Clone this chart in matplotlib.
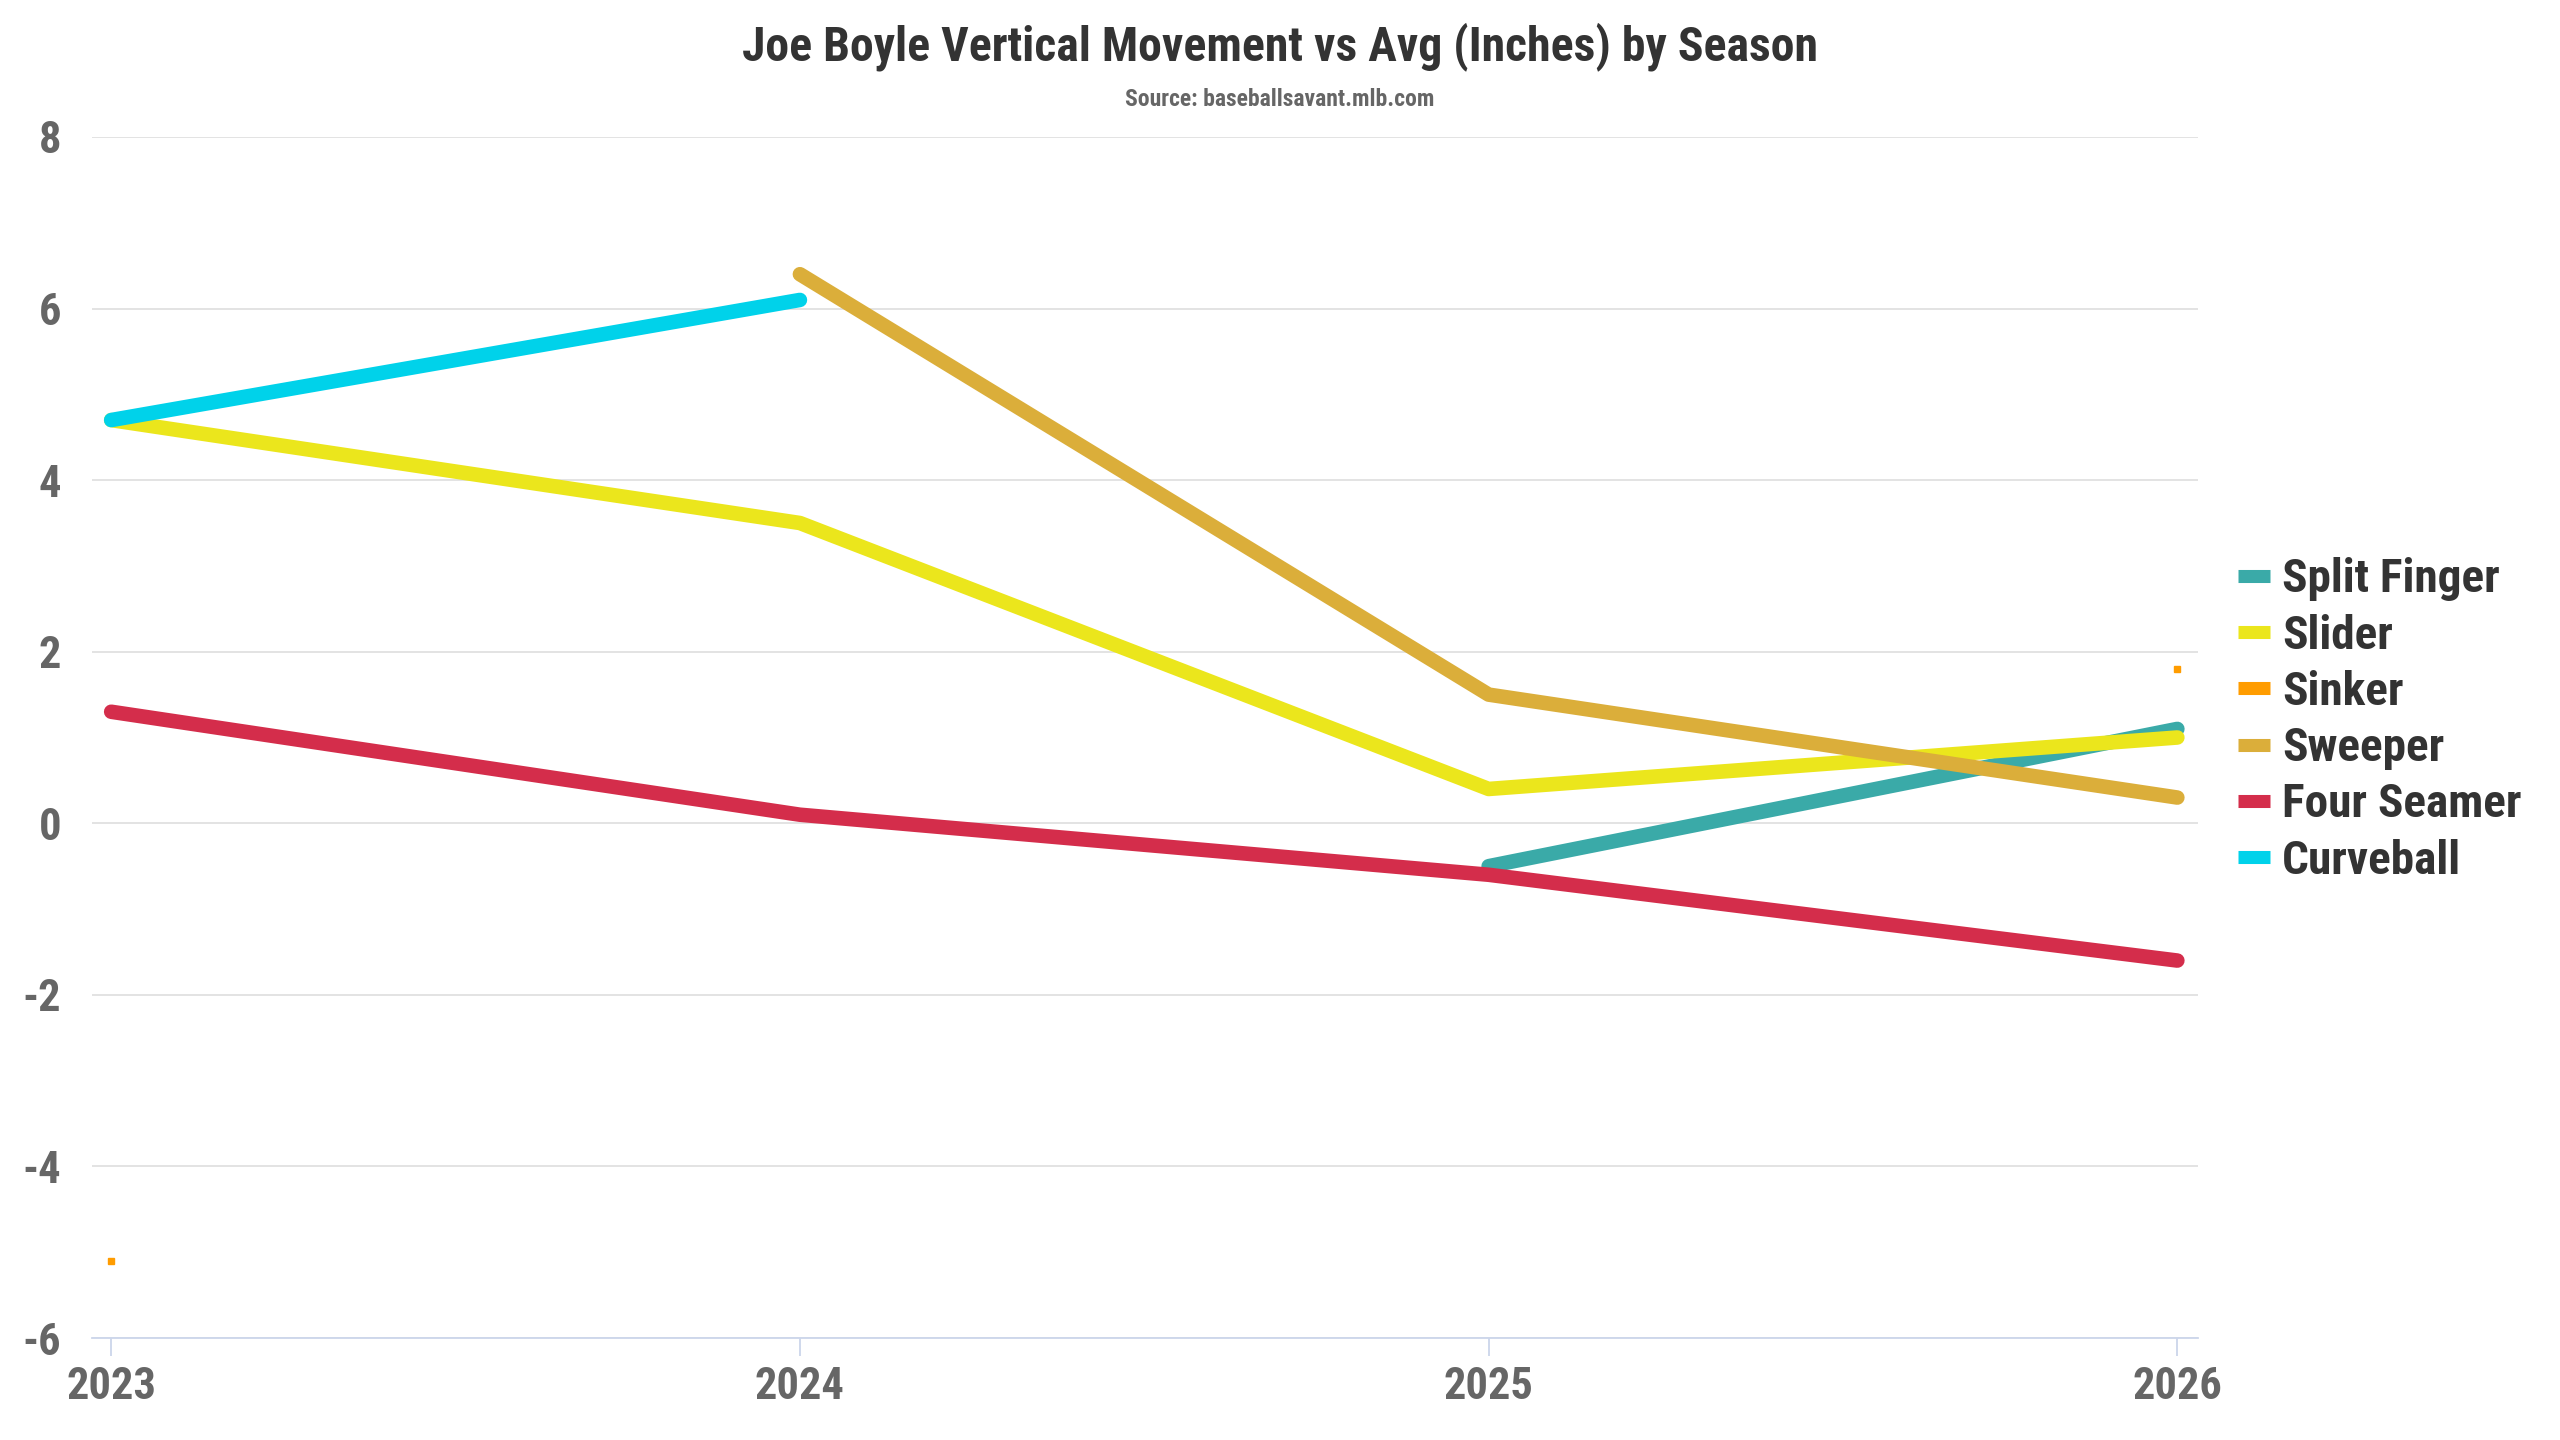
"""
Joe Boyle vertical movement vs league average, by season and pitch type.
Line chart, one line per pitch, season on x.
"""
import numpy as np
import matplotlib.pyplot as plt
from matplotlib.lines import Line2D

# ── DATA ──────────────────────────────────────────────────────────
SEASONS = [2023, 2024, 2025, 2026]
PITCHES = ["Split Finger", "Slider", "Sinker", "Sweeper", "Four Seamer", "Curveball"]
SPLIT_FINGER = [np.nan, np.nan, -0.5, 1.1]
SLIDER       = [4.7, 3.5, 0.4, 1.0]
SINKER       = [-5.1, np.nan, np.nan, 1.8]
SWEEPER      = [np.nan, 6.4, 1.5, 0.3]
FOUR_SEAMER  = [1.3, 0.1, -0.6, -1.6]
CURVEBALL    = [4.7, 6.1, np.nan, np.nan]
Y_TICKS = [-6, -4, -2, 0, 2, 4, 6, 8]
# ─────────────────────────────────────────────────────────────────

COLORS = {
    "Split Finger": "#3aaaa8",
    "Slider": "#ebe61c",
    "Sinker": "#ff9c00",
    "Sweeper": "#dbae3a",
    "Four Seamer": "#d42d4b",
    "Curveball": "#00d2ea",
}
SERIES = dict(zip(PITCHES, [SPLIT_FINGER, SLIDER, SINKER, SWEEPER, FOUR_SEAMER, CURVEBALL]))

plt.rcParams["font.family"] = ["Roboto Condensed", "Roboto", "DejaVu Sans"]
plt.rcParams["font.weight"] = "bold"

fig = plt.figure(figsize=(25.6, 14.4), dpi=100)
ax = fig.add_axes([0.0359, 0.0708, 0.8227, 0.8341])

for name in PITCHES:
    vals = SERIES[name]
    if name == "Sinker":
        # isolated points only, no connecting segments
        ax.plot(SEASONS, vals, ls="none", marker="s", ms=4.5,
                color=COLORS[name], zorder=3)
    else:
        ax.plot(SEASONS, vals, color=COLORS[name], lw=10.5,
                solid_capstyle="round", solid_joinstyle="round", zorder=3)

ax.set_xlim(2022.972, 2026.03)
ax.set_ylim(-6, 8)
ax.set_xticks(SEASONS)
ax.set_xticklabels([str(s) for s in SEASONS])
ax.set_yticks(Y_TICKS)
ax.set_yticklabels([str(t) for t in Y_TICKS])

ax.grid(axis="y", color="#e3e3e3", lw=1.4, zorder=1)
ax.set_axisbelow(True)
for side in ["top", "right", "left"]:
    ax.spines[side].set_visible(False)
ax.spines["bottom"].set_color("#ccd6eb")
ax.spines["bottom"].set_linewidth(1.3)

ax.tick_params(axis="x", colors="#ccd6eb", length=13, width=1.3, pad=7,
               labelsize=32, labelcolor="#666666")
ax.tick_params(axis="y", length=0, pad=22, labelsize=32, labelcolor="#666666")
for lbl in ax.get_xticklabels() + ax.get_yticklabels():
    lbl.set_fontweight("bold")

# legend — bar handles for every pitch, sinker included
handles = [Line2D([0], [0], color=COLORS[p], lw=9.4, solid_capstyle="butt", label=p)
           for p in PITCHES]
leg = fig.legend(handles=handles, loc="center left", bbox_to_anchor=(0.8742, 0.5),
                 frameon=False, fontsize=34, handlelength=0.68, handletextpad=0.25,
                 labelspacing=0.26, borderpad=0, borderaxespad=0)
for t in leg.get_texts():
    t.set_color("#333333")
    t.set_fontweight("bold")

fig.text(0.5, 1 - 47 / 1440, "Joe Boyle Vertical Movement vs Avg (Inches) by Season",
         ha="center", va="center", fontsize=34.4, fontweight="bold", color="#333333")
fig.text(0.5, 1 - 99 / 1440, "Source: baseballsavant.mlb.com",
         ha="center", va="center", fontsize=17, fontweight="bold", color="#666666")

fig.savefig("out.png", dpi=100, facecolor="white")
